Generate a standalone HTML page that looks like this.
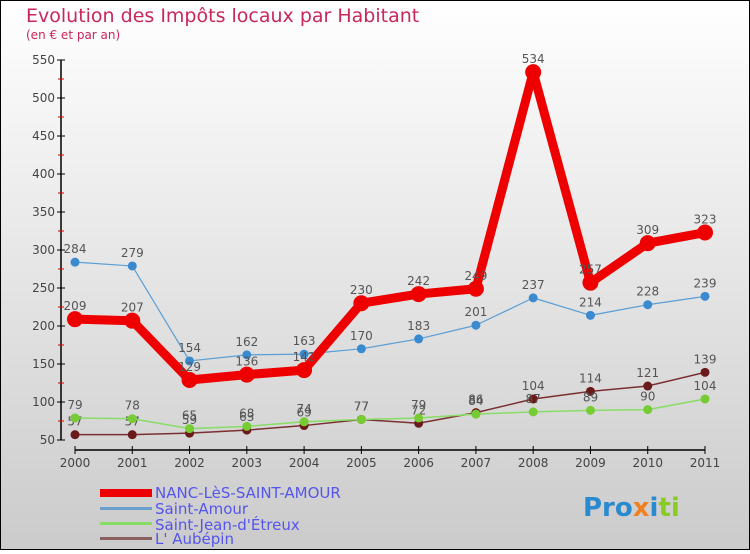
<!DOCTYPE html>
<html><head><meta charset="utf-8"><style>
body{margin:0;width:750px;height:550px;overflow:hidden;font-family:"DejaVu Sans","Liberation Sans",sans-serif}
</style></head><body>
<svg width="750" height="550" xmlns="http://www.w3.org/2000/svg">
<defs><linearGradient id="bg" x1="0" y1="0" x2="0" y2="1"><stop offset="0" stop-color="#ffffff"/><stop offset="1" stop-color="#cbcbcb"/></linearGradient></defs>
<rect x="0" y="0" width="750" height="550" fill="url(#bg)" stroke="#000" stroke-width="2"/>
<text x="26" y="22" font-size="19" fill="#c8275a">Evolution des Impôts locaux par Habitant</text>
<text x="26" y="39" font-size="12" fill="#c8275a">(en € et par an)</text>
<g id="axes"></g><g id="series"></g>
<g font-size="15" fill="#5555ee">
<rect x="100" y="489" width="52" height="8" fill="#ee0000"/>
<text x="155" y="498">NANC-LèS-SAINT-AMOUR</text>
<rect x="100" y="507" width="52" height="3" fill="#6a9ecb"/>
<text x="155" y="514">Saint-Amour</text>
<rect x="100" y="522" width="52" height="3" fill="#88dd66"/>
<text x="155" y="530">Saint-Jean-d'Étreux</text>
<rect x="100" y="537" width="52" height="3" fill="#8a6060"/>
<text x="155" y="544">L' Aubépin</text>
</g>
<text x="583" y="516" font-size="26" font-weight="bold" fill="#2a8ad0">Pro<tspan fill="#f08020">x</tspan><tspan fill="#2a8ad0">i</tspan><tspan fill="#88cc22">ti</tspan></text>
</svg>
<script>
const years=["2000","2001","2002","2003","2004","2005","2006","2007","2008","2009","2010","2011"];
const yTicks=[50,100,150,200,250,300,350,400,450,500,550];
const nanc=[209,207,129,136,142,230,242,249,534,257,309,323];
const saintAmour=[284,279,154,162,163,170,183,201,237,214,228,239];
const saintJean=[79,78,65,68,74,77,79,84,87,89,90,104];
const aubepin=[57,57,59,63,69,77,72,86,104,114,121,139];
const NS="http://www.w3.org/2000/svg";
const X=i=>75+i*(630/11), Y=v=>440-(v-50)*0.76;
function mk(t,a,p){const e=document.createElementNS(NS,t);for(const k in a)e.setAttribute(k,a[k]);if(p)p.appendChild(e);return e;}
const ax=document.getElementById('axes');
let l=mk('line',{x1:61,y1:60,x2:61,y2:440,stroke:'#000','stroke-width':1.5},ax);


l=mk('line',{x1:75,y1:450,x2:705,y2:450,stroke:'#000','stroke-width':1.5},ax);


yTicks.forEach((v,i)=>{mk('line',{x1:57,y1:Y(v),x2:65,y2:Y(v),stroke:'#000'},ax);
 if(i<yTicks.length-1)mk('line',{x1:58,y1:Y(v+25),x2:64,y2:Y(v+25),stroke:'#d00'},ax);
 const t=mk('text',{x:55,y:Y(v)+4,'font-size':12,fill:'#444','text-anchor':'end'},ax);t.textContent=v;
 
 });
years.forEach((y,i)=>{mk('line',{x1:X(i),y1:446,x2:X(i),y2:454,stroke:'#000'},ax);
 const t=mk('text',{x:X(i),y:467,'font-size':12,fill:'#444','text-anchor':'middle'},ax);t.textContent=y;
 
 });
const sg=document.getElementById('series');
function series(d,name,color,w,r,lc){const g=mk('g',{},sg);
 
 
 mk('polyline',{points:d.map((v,i)=>X(i)+','+Y(v)).join(' '),fill:'none',stroke:color,'stroke-width':w,'stroke-linejoin':'round'},g);
 d.forEach((v,i)=>{const c=mk('circle',{cx:X(i),cy:Y(v),r:r,fill:lc},g);
  
  
  const t=mk('text',{x:X(i),y:Y(v)-9,'font-size':12,fill:'#555','text-anchor':'middle'},g);t.textContent=v;
  
  });}
series(aubepin,'series-aubepin','#7a3030',1.5,4.5,'#6a1a1a');
series(saintJean,'series-saint-jean','#88dd66',1.5,4.5,'#77cc33');
series(saintAmour,'series-saint-amour','#5a9ed5',1.2,4.5,'#3a8ad0');
series(nanc,'series-nanc','#ee0000',9,8,'#ee0000');
</script>
</body></html>
